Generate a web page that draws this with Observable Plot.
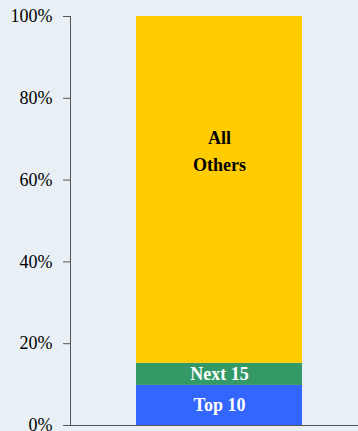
<!DOCTYPE html>
<html>
<head>
<meta charset="utf-8">
<script src="https://cdn.jsdelivr.net/npm/d3@7"></script>
<script src="https://cdn.jsdelivr.net/npm/@observablehq/plot@0.6"></script>
<style>
  html, body { margin: 0; padding: 0; background: #e9f0f5; }
  #chart { width: 358px; height: 431px; }
</style>
</head>
<body>
<div id="chart"></div>
<script>
const groups = ["Top 10", "Next 15", "All Others"];
const shares = [0.098, 0.054, 0.848];
const colors = ["#3366ff", "#339966", "#ffcc00"];
const labelColors = ["white", "white", "black"];
const yTicks = [0, 0.2, 0.4, 0.6, 0.8, 1.0];

const rows = groups.map((g, i) => ({cat: "all", group: g, value: shares[i], label: g === "All Others" ? "All\nOthers" : g, lc: labelColors[i]}));
const stacked = rows.slice(0, 2);
const others = rows.slice(2);

const chart = Plot.plot({
  width: 358,
  height: 431,
  marginLeft: 70,
  marginRight: 0,
  marginTop: 16,
  marginBottom: 6,
  style: {background: "#e9f0f5", fontFamily: "'Liberation Serif', 'Times New Roman', serif", fontSize: "18px", color: "black"},
  x: {domain: ["all"], padding: 0.2687, align: 0.541, axis: null},
  y: {domain: [0, 1], axis: null},
  color: {domain: groups, range: colors},
  marks: [
    Plot.barY(rows, {x: "cat", y: "value", fill: "group", order: groups}),
    Plot.axisY({ticks: yTicks, label: null, tickFormat: d => Math.round(d * 100) + "%", tickSize: 7, tickPadding: 11, stroke: "#555", fill: "black", fontSize: 18}),
    Plot.frame({anchor: "left", stroke: "#555"}),
    Plot.ruleY([0], {stroke: "#555"}),
    Plot.text(stacked, Plot.stackY({x: "cat", y: "value", text: "label", fill: "lc", fontWeight: "bold", fontSize: 18})),
    Plot.text(others, {x: "cat", y: d => 0.677, text: "label", fill: "lc", fontWeight: "bold", fontSize: 18, lineHeight: 1.5})
  ]
});
document.getElementById("chart").append(chart);
</script>
</body>
</html>
